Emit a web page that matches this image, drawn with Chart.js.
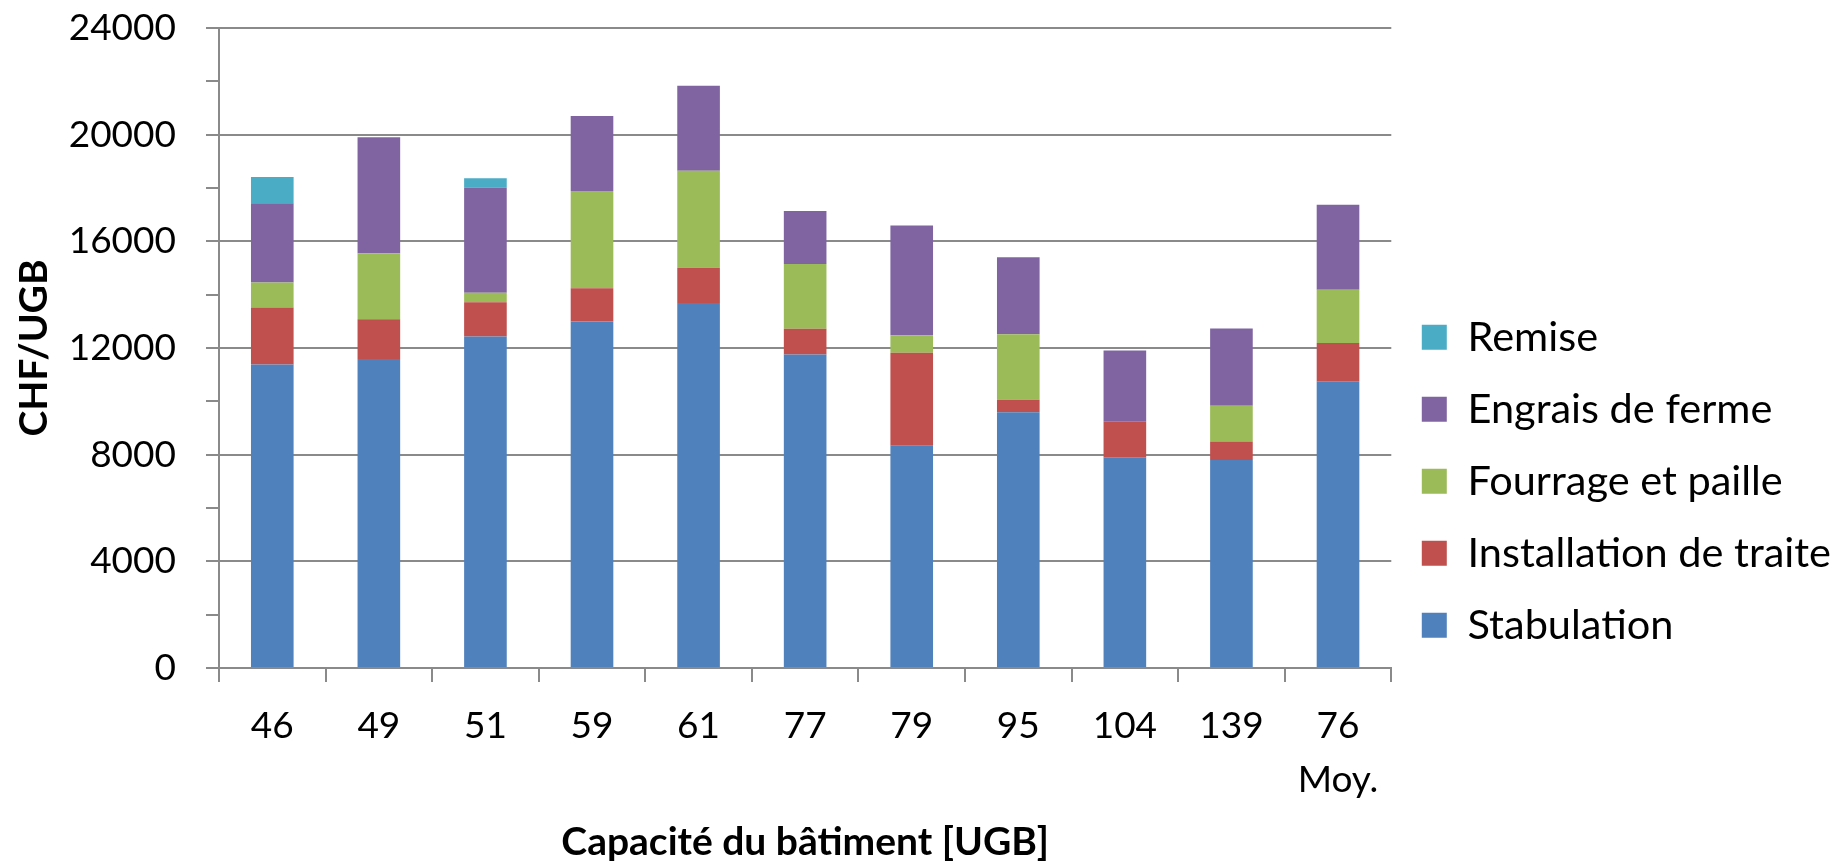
<!DOCTYPE html>
<html>
<head>
<meta charset="utf-8">
<script src="https://cdn.jsdelivr.net/npm/chart.js@4/dist/chart.umd.min.js"></script>
<style>
  html, body { margin: 0; padding: 0; background: #fff; }
  #wrap { width: 1845px; height: 862px; }
</style>
</head>
<body>
<div id="wrap"><canvas id="chart" width="1845" height="862"></canvas></div>
<script>
    'use strict';

    // Capacité du bâtiment [UGB]
    var categories = ['46', '49', '51', '59', '61', '77', '79', '95', '104', '139', ['76', 'Moy.']];

    // CHF/UGB
    var stabulation = [11380, 11590, 12430, 12990, 13690, 11760, 8330, 9590, 7900, 7800, 10750];
    var installationTraite = [2140, 1490, 1290, 1250, 1320, 960, 3490, 470, 1330, 690, 1440];
    var fourragePaille = [940, 2470, 350, 3650, 3640, 2430, 660, 2460, 0, 1340, 1990];
    var engraisFerme = [2970, 4350, 3950, 2810, 3180, 1990, 4110, 2880, 2680, 2900, 3190];
    var remise = [980, 0, 350, 0, 0, 0, 0, 0, 0, 0, 0];

    var axisGray = '#8a8a8a';

    Chart.defaults.font.family = 'Lato';
    Chart.defaults.color = '#000';

    new Chart(document.getElementById('chart'), {
        type: 'bar',
        data: {
            labels: categories,
            datasets: [
                { label: 'Stabulation', data: stabulation, backgroundColor: '#4f81bd' },
                { label: 'Installation de traite', data: installationTraite, backgroundColor: '#c0504d' },
                { label: 'Fourrage et paille', data: fourragePaille, backgroundColor: '#9bbb59' },
                { label: 'Engrais de ferme', data: engraisFerme, backgroundColor: '#8064a2' },
                { label: 'Remise', data: remise, backgroundColor: '#4bacc6' },
            ],
        },
        options: {
            responsive: false,
            devicePixelRatio: 1,
            animation: false,
            barPercentage: 0.4,
            categoryPercentage: 1.0,
            layout: {
                padding: { top: 28, right: 4, bottom: 0, left: 0 },
            },
            plugins: {
                tooltip: { enabled: false },
                legend: {
                    position: 'right',
                    align: 'start',
                    reverse: true,
                    // empty title only pushes the entries down, like in the original
                    title: {
                        display: true,
                        text: ' ',
                        font: { size: 10, lineHeight: 1 },
                        padding: { top: 248, bottom: 0 },
                    },
                    labels: {
                        boxWidth: 25,
                        boxHeight: 25,
                        padding: 30.5,
                        color: '#000',
                        font: { size: 41.5 },
                    },
                },
            },
            scales: {
                x: {
                    stacked: true,
                    afterFit: function (scale) { scale.height = 194; },
                    border: { color: axisGray, width: 2 },
                    grid: {
                        drawOnChartArea: false,
                        color: axisGray,
                        tickColor: axisGray,
                        tickLength: 14,
                        lineWidth: 2,
                    },
                    ticks: {
                        maxRotation: 0,
                        padding: 17,
                        font: { size: 37, lineHeight: 1.46 },
                    },
                    title: {
                        display: true,
                        text: 'Capacité du bâtiment [UGB]',
                        font: { size: 39, weight: 'bold', lineHeight: 1 },
                        padding: { top: 0, bottom: 0 },
                    },
                },
                y: {
                    stacked: true,
                    min: 0,
                    max: 24000,
                    afterFit: function (scale) {
                        scale.width = 219;
                        // the top label may stick out above the plot, as in the original
                        scale.paddingTop = 0;
                        scale.paddingBottom = 0;
                    },
                    border: { color: axisGray, width: 2 },
                    grid: {
                        // minor ticks every 2000, grid lines only every 4000
                        color: function (ctx) {
                            return ctx.tick && ctx.tick.value % 4000 === 0 ? axisGray : 'rgba(0,0,0,0)';
                        },
                        tickColor: axisGray,
                        tickLength: 13,
                        lineWidth: 2,
                    },
                    ticks: {
                        stepSize: 2000,
                        padding: 30,
                        font: { size: 37 },
                        callback: function (value) {
                            return value % 4000 === 0 ? String(value) : '';
                        },
                    },
                    title: {
                        display: true,
                        text: 'CHF/UGB',
                        font: { size: 39, weight: 'bold', lineHeight: 1.2 },
                        padding: { top: 11, bottom: 0 },
                    },
                },
            },
        },
    });
</script>
</body>
</html>
